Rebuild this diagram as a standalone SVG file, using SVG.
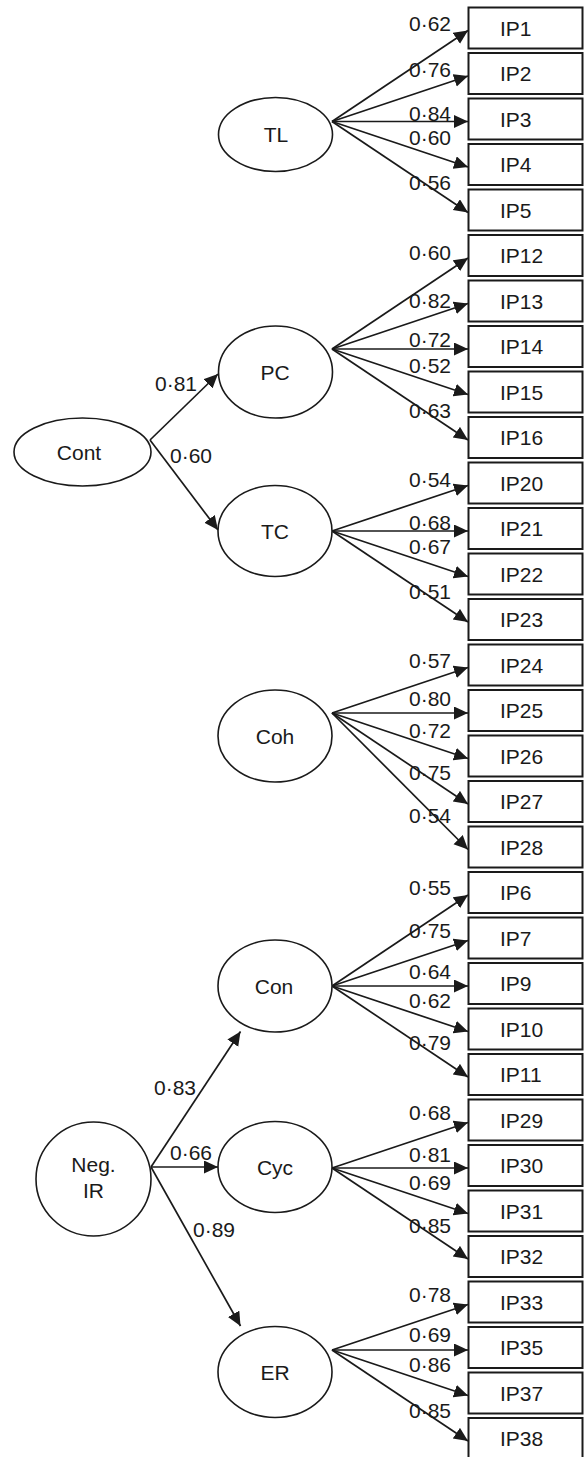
<svg xmlns="http://www.w3.org/2000/svg" width="585" height="1457" viewBox="0 0 585 1457">
<style>
.bg{fill:#fff}
.lat{fill:#fff;stroke:#1a1a1a;stroke-width:1.6}
.box{fill:#fff;stroke:#1a1a1a;stroke-width:2}
.arr{fill:none;stroke:#1a1a1a;stroke-width:1.7;marker-end:url(#ah)}
text{font-family:"Liberation Sans",Arial,sans-serif;font-size:21px;fill:#1a1a1a}
.c{text-anchor:middle}
.w{text-anchor:end}
.bt{text-anchor:start}
</style>
<defs>
<marker id="ah" markerUnits="userSpaceOnUse" markerWidth="16" markerHeight="14" refX="14" refY="6.5" orient="auto">
<path d="M0,0 L14,6.5 L0,13 z" fill="#1a1a1a"/>
</marker>
</defs>
<rect class="bg" x="0" y="0" width="585" height="1457"/>
<g id="connectors">
<path class="arr" d="M332,121.5 L468,30.5"/>
<path class="arr" d="M332,121.5 L468,76"/>
<path class="arr" d="M332,121.5 L468,121.5"/>
<path class="arr" d="M332,121.5 L468,167"/>
<path class="arr" d="M332,121.5 L468,212.5"/>
<path class="arr" d="M332,349 L468,258"/>
<path class="arr" d="M332,349 L468,303.5"/>
<path class="arr" d="M332,349 L468,349"/>
<path class="arr" d="M332,349 L468,394.5"/>
<path class="arr" d="M332,349 L468,440"/>
<path class="arr" d="M332,531 L468,485.5"/>
<path class="arr" d="M332,531 L468,531"/>
<path class="arr" d="M332,531 L468,576.5"/>
<path class="arr" d="M332,531 L468,622"/>
<path class="arr" d="M332,713 L468,667.5"/>
<path class="arr" d="M332,713 L468,713"/>
<path class="arr" d="M332,713 L468,758.5"/>
<path class="arr" d="M332,713 L468,804"/>
<path class="arr" d="M332,713 L468,849.5"/>
<path class="arr" d="M332,986 L468,895"/>
<path class="arr" d="M332,986 L468,940.5"/>
<path class="arr" d="M332,986 L468,986"/>
<path class="arr" d="M332,986 L468,1031.5"/>
<path class="arr" d="M332,986 L468,1077"/>
<path class="arr" d="M332,1168 L468,1122.5"/>
<path class="arr" d="M332,1168 L468,1168"/>
<path class="arr" d="M332,1168 L468,1213.5"/>
<path class="arr" d="M332,1168 L468,1259"/>
<path class="arr" d="M332,1350 L468,1304.5"/>
<path class="arr" d="M332,1350 L468,1350"/>
<path class="arr" d="M332,1350 L468,1395.5"/>
<path class="arr" d="M332,1350 L468,1441"/>
<path class="arr" d="M150,440 L218,374"/>
<path class="arr" d="M150,440 L218,530"/>
<path class="arr" d="M151,1167 L240.5,1031.5"/>
<path class="arr" d="M151,1167 L218,1167"/>
<path class="arr" d="M151,1167 L240.5,1326"/>
</g>
<g id="loadings">
<text class="w" x="451" y="30.5">0·62</text>
<text class="w" x="451" y="77">0·76</text>
<text class="w" x="451" y="121">0·84</text>
<text class="w" x="451" y="145">0·60</text>
<text class="w" x="451" y="190">0·56</text>
<text class="w" x="451" y="260">0·60</text>
<text class="w" x="451" y="308">0·82</text>
<text class="w" x="451" y="347">0·72</text>
<text class="w" x="451" y="372.5">0·52</text>
<text class="w" x="451" y="418">0·63</text>
<text class="w" x="451" y="486.5">0·54</text>
<text class="w" x="451" y="530">0·68</text>
<text class="w" x="451" y="554">0·67</text>
<text class="w" x="451" y="599">0·51</text>
<text class="w" x="451" y="668">0·57</text>
<text class="w" x="451" y="706">0·80</text>
<text class="w" x="451" y="738">0·72</text>
<text class="w" x="451" y="780">0·75</text>
<text class="w" x="451" y="823">0·54</text>
<text class="w" x="451" y="895">0·55</text>
<text class="w" x="451" y="938">0·75</text>
<text class="w" x="451" y="979">0·64</text>
<text class="w" x="451" y="1008">0·62</text>
<text class="w" x="451" y="1050">0·79</text>
<text class="w" x="451" y="1120">0·68</text>
<text class="w" x="451" y="1162">0·81</text>
<text class="w" x="451" y="1190">0·69</text>
<text class="w" x="451" y="1233">0·85</text>
<text class="w" x="451" y="1302">0·78</text>
<text class="w" x="451" y="1342">0·69</text>
<text class="w" x="451" y="1372">0·86</text>
<text class="w" x="451" y="1418">0·85</text>
<text class="w" x="197" y="391">0·81</text>
<text class="w" x="212" y="463">0·60</text>
<text class="w" x="196" y="1095">0·83</text>
<text class="w" x="212" y="1160">0·66</text>
<text class="w" x="235" y="1237">0·89</text>
</g>
<g id="TL"><ellipse class="lat" cx="275.5" cy="134.5" rx="57" ry="37"/><text class="c" x="276" y="142">TL</text></g>
<g id="PC"><ellipse class="lat" cx="275.5" cy="372" rx="57" ry="46"/><text class="c" x="275" y="380">PC</text></g>
<g id="TC"><ellipse class="lat" cx="275" cy="531" rx="57" ry="45.5"/><text class="c" x="275" y="539">TC</text></g>
<g id="Coh"><ellipse class="lat" cx="275" cy="736" rx="57" ry="46"/><text class="c" x="275" y="744">Coh</text></g>
<g id="Con"><ellipse class="lat" cx="275" cy="986" rx="57" ry="46"/><text class="c" x="274" y="993.5">Con</text></g>
<g id="Cyc"><ellipse class="lat" cx="275" cy="1167" rx="57" ry="45.5"/><text class="c" x="275" y="1175">Cyc</text></g>
<g id="ER"><ellipse class="lat" cx="275" cy="1372" rx="57" ry="45.5"/><text class="c" x="275" y="1380">ER</text></g>
<g id="Cont"><ellipse class="lat" cx="82.5" cy="452" rx="68.5" ry="34"/><text class="c" x="79" y="460">Cont</text></g>
<g id="NegIR"><ellipse class="lat" cx="93.5" cy="1179" rx="57.5" ry="57"/><text class="c" x="93.5" y="1172">Neg.</text><text class="c" x="93.5" y="1198">IR</text></g>
<g id="IP1"><rect class="box" x="468.5" y="7.5" width="114" height="41"/><text class="bt" x="500" y="35.5">IP1</text></g>
<g id="IP2"><rect class="box" x="468.5" y="53" width="114" height="41"/><text class="bt" x="500" y="81">IP2</text></g>
<g id="IP3"><rect class="box" x="468.5" y="98.5" width="114" height="41"/><text class="bt" x="500" y="126.5">IP3</text></g>
<g id="IP4"><rect class="box" x="468.5" y="144" width="114" height="41"/><text class="bt" x="500" y="172">IP4</text></g>
<g id="IP5"><rect class="box" x="468.5" y="189.5" width="114" height="41"/><text class="bt" x="500" y="217.5">IP5</text></g>
<g id="IP12"><rect class="box" x="468.5" y="235" width="114" height="41"/><text class="bt" x="500" y="263">IP12</text></g>
<g id="IP13"><rect class="box" x="468.5" y="280.5" width="114" height="41"/><text class="bt" x="500" y="308.5">IP13</text></g>
<g id="IP14"><rect class="box" x="468.5" y="326" width="114" height="41"/><text class="bt" x="500" y="354">IP14</text></g>
<g id="IP15"><rect class="box" x="468.5" y="371.5" width="114" height="41"/><text class="bt" x="500" y="399.5">IP15</text></g>
<g id="IP16"><rect class="box" x="468.5" y="417" width="114" height="41"/><text class="bt" x="500" y="445">IP16</text></g>
<g id="IP20"><rect class="box" x="468.5" y="462.5" width="114" height="41"/><text class="bt" x="500" y="490.5">IP20</text></g>
<g id="IP21"><rect class="box" x="468.5" y="508" width="114" height="41"/><text class="bt" x="500" y="536">IP21</text></g>
<g id="IP22"><rect class="box" x="468.5" y="553.5" width="114" height="41"/><text class="bt" x="500" y="581.5">IP22</text></g>
<g id="IP23"><rect class="box" x="468.5" y="599" width="114" height="41"/><text class="bt" x="500" y="627">IP23</text></g>
<g id="IP24"><rect class="box" x="468.5" y="644.5" width="114" height="41"/><text class="bt" x="500" y="672.5">IP24</text></g>
<g id="IP25"><rect class="box" x="468.5" y="690" width="114" height="41"/><text class="bt" x="500" y="718">IP25</text></g>
<g id="IP26"><rect class="box" x="468.5" y="735.5" width="114" height="41"/><text class="bt" x="500" y="763.5">IP26</text></g>
<g id="IP27"><rect class="box" x="468.5" y="781" width="114" height="41"/><text class="bt" x="500" y="809">IP27</text></g>
<g id="IP28"><rect class="box" x="468.5" y="826.5" width="114" height="41"/><text class="bt" x="500" y="854.5">IP28</text></g>
<g id="IP6"><rect class="box" x="468.5" y="872" width="114" height="41"/><text class="bt" x="500" y="900">IP6</text></g>
<g id="IP7"><rect class="box" x="468.5" y="917.5" width="114" height="41"/><text class="bt" x="500" y="945.5">IP7</text></g>
<g id="IP9"><rect class="box" x="468.5" y="963" width="114" height="41"/><text class="bt" x="500" y="991">IP9</text></g>
<g id="IP10"><rect class="box" x="468.5" y="1008.5" width="114" height="41"/><text class="bt" x="500" y="1036.5">IP10</text></g>
<g id="IP11"><rect class="box" x="468.5" y="1054" width="114" height="41"/><text class="bt" x="500" y="1082">IP11</text></g>
<g id="IP29"><rect class="box" x="468.5" y="1099.5" width="114" height="41"/><text class="bt" x="500" y="1127.5">IP29</text></g>
<g id="IP30"><rect class="box" x="468.5" y="1145" width="114" height="41"/><text class="bt" x="500" y="1173">IP30</text></g>
<g id="IP31"><rect class="box" x="468.5" y="1190.5" width="114" height="41"/><text class="bt" x="500" y="1218.5">IP31</text></g>
<g id="IP32"><rect class="box" x="468.5" y="1236" width="114" height="41"/><text class="bt" x="500" y="1264">IP32</text></g>
<g id="IP33"><rect class="box" x="468.5" y="1281.5" width="114" height="41"/><text class="bt" x="500" y="1309.5">IP33</text></g>
<g id="IP35"><rect class="box" x="468.5" y="1327" width="114" height="41"/><text class="bt" x="500" y="1355">IP35</text></g>
<g id="IP37"><rect class="box" x="468.5" y="1372.5" width="114" height="41"/><text class="bt" x="500" y="1400.5">IP37</text></g>
<g id="IP38"><rect class="box" x="468.5" y="1418" width="114" height="41"/><text class="bt" x="500" y="1446">IP38</text></g>
</svg>
